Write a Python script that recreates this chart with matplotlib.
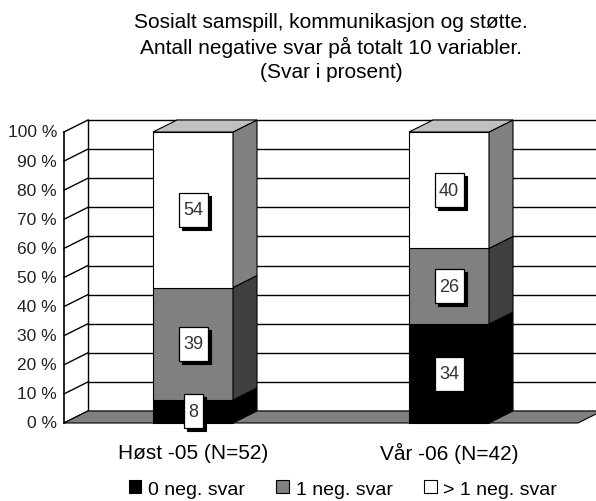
import matplotlib
matplotlib.use("Agg")
import matplotlib.pyplot as plt
from matplotlib.patches import Polygon, Rectangle
import numpy as np

plt.rcParams['font.family'] = ['Liberation Sans', 'DejaVu Sans']

# Data
categories = ['Høst -05 (N=52)', 'Vår -06 (N=42)']
series_names = ['0 neg. svar', '1 neg. svar', '> 1 neg. svar']
null_neg = [8, 34]
en_neg = [39, 26]
flere_neg = [54, 40]
title_lines = ['Sosialt samspill, kommunikasjon og støtte.',
               'Antall negative svar på totalt 10 variabler.',
               '(Svar i prosent)']
yticks = list(range(0, 101, 10))

# farger: front, side, topp
front_cols = ['#000000', '#808080', '#ffffff']
side_cols = ['#000000', '#404040', '#808080']
top_col = '#c0c0c0'

# geometri (dataenheter)
W, H = 596, 502
x0_px, x1_px = 193, 449          # senter av søyler i piksler
px_per_x = x1_px - x0_px
y0_px, px_per_y = 424, 2.91
bar_w = 80 / px_per_x
ddx = 24 / px_per_x               # dybde i x
ddy = 12 / px_per_y               # dybde i y

fig = plt.figure(figsize=(W / 100, H / 100), dpi=100)
ax = fig.add_axes([0, 0, 1, 1])
ax.set_xlim(-x0_px / px_per_x, (W - x0_px) / px_per_x)
ax.set_ylim((y0_px - H) / px_per_y, y0_px / px_per_y)
ax.axis('off')

xl = (64 - x0_px) / px_per_x      # venstre akse (front)
xr = (578 - x0_px) / px_per_x     # gulv høyre (front)
xr_back = (W + 10 - x0_px) / px_per_x

# bakvegg og gitter
for t in yticks:
    ax.plot([xl + ddx, xr_back], [t + ddy, t + ddy], color='black', lw=1.0, zorder=1)
    ax.plot([xl, xl + ddx], [t, t + ddy], color='black', lw=1.0, zorder=1)
    ax.text(xl - 7 / px_per_x, t, f'{t} %', ha='right', va='center', fontsize=12.5, color='#222222')
ax.plot([xl + ddx, xl + ddx], [ddy, 100 + ddy], color='black', lw=1.0, zorder=1)
ax.plot([xl, xl], [0, 100], color='black', lw=1.2, zorder=1)

# gulv
floor = Polygon([(xl, 0), (xr, 0), (xr + ddx, ddy), (xl + ddx, ddy)],
                closed=True, fc='#808080', ec='black', lw=0.8, zorder=2)
ax.add_patch(floor)

# stablede søyler, normalisert til 100 %
data = np.array([null_neg, en_neg, flere_neg], dtype=float)
totals = data.sum(axis=0)
pct = data / totals * 100
xs = np.arange(len(categories))
bottoms = np.zeros(len(categories))
for i in range(len(series_names)):
    ax.bar(xs, pct[i], bar_w, bottom=bottoms, color=front_cols[i],
           edgecolor='black', lw=0.8, zorder=3, label=series_names[i])
    for j, x in enumerate(xs):
        b, tp = bottoms[j], bottoms[j] + pct[i][j]
        xr_bar = x + bar_w / 2
        side = Polygon([(xr_bar, b), (xr_bar + ddx, b + ddy),
                        (xr_bar + ddx, tp + ddy), (xr_bar, tp)],
                       closed=True, fc=side_cols[i], ec='black', lw=0.8, zorder=3)
        ax.add_patch(side)
    bottoms = bottoms + pct[i]

# topp av søylene
for j, x in enumerate(xs):
    xa, xb = x - bar_w / 2, x + bar_w / 2
    top = Polygon([(xa, 100), (xb, 100), (xb + ddx, 100 + ddy), (xa + ddx, 100 + ddy)],
                  closed=True, fc=top_col, ec='black', lw=0.8, zorder=3)
    ax.add_patch(top)

# dataetiketter med skygge
bottoms = np.zeros(len(categories))
for i in range(len(series_names)):
    for j, x in enumerate(xs):
        yc = bottoms[j] + pct[i][j] / 2
        s = str(int(data[i][j]))
        bw = (9 + 10 * len(s)) / px_per_x
        bh = 34 / px_per_y
        sx, sy = 3 / px_per_x, 3 / px_per_y
        ax.add_patch(Rectangle((x - bw / 2 + sx, yc - bh / 2 - sy), bw, bh,
                               fc='black', ec='black', lw=0.8, zorder=4))
        ax.add_patch(Rectangle((x - bw / 2, yc - bh / 2), bw, bh,
                               fc='white', ec='black', lw=0.9, zorder=5))
        ax.text(x, yc, s, ha='center', va='center', fontsize=13,
                color='#333333', zorder=6)
    bottoms = bottoms + pct[i]

# kategorietiketter
for j, x in enumerate(xs):
    ax.text(x, -10, categories[j], ha='center', va='center', fontsize=15, color='black')

# tittel
for k, line in enumerate(title_lines):
    fig.text(331 / W, 1 - (22 + 25 * k) / H, line, ha='center', va='center',
             fontsize=15, color='black')

# forklaring
handles, labels = ax.get_legend_handles_labels()
leg = fig.legend(handles, labels, loc='center', bbox_to_anchor=(343 / W, 1 - 490 / H),
                 ncol=3, frameon=False, fontsize=14, handlelength=0.65, handleheight=0.65,
                 handletextpad=0.35, columnspacing=1.6, borderpad=0)

fig.savefig('out.png', dpi=100)
